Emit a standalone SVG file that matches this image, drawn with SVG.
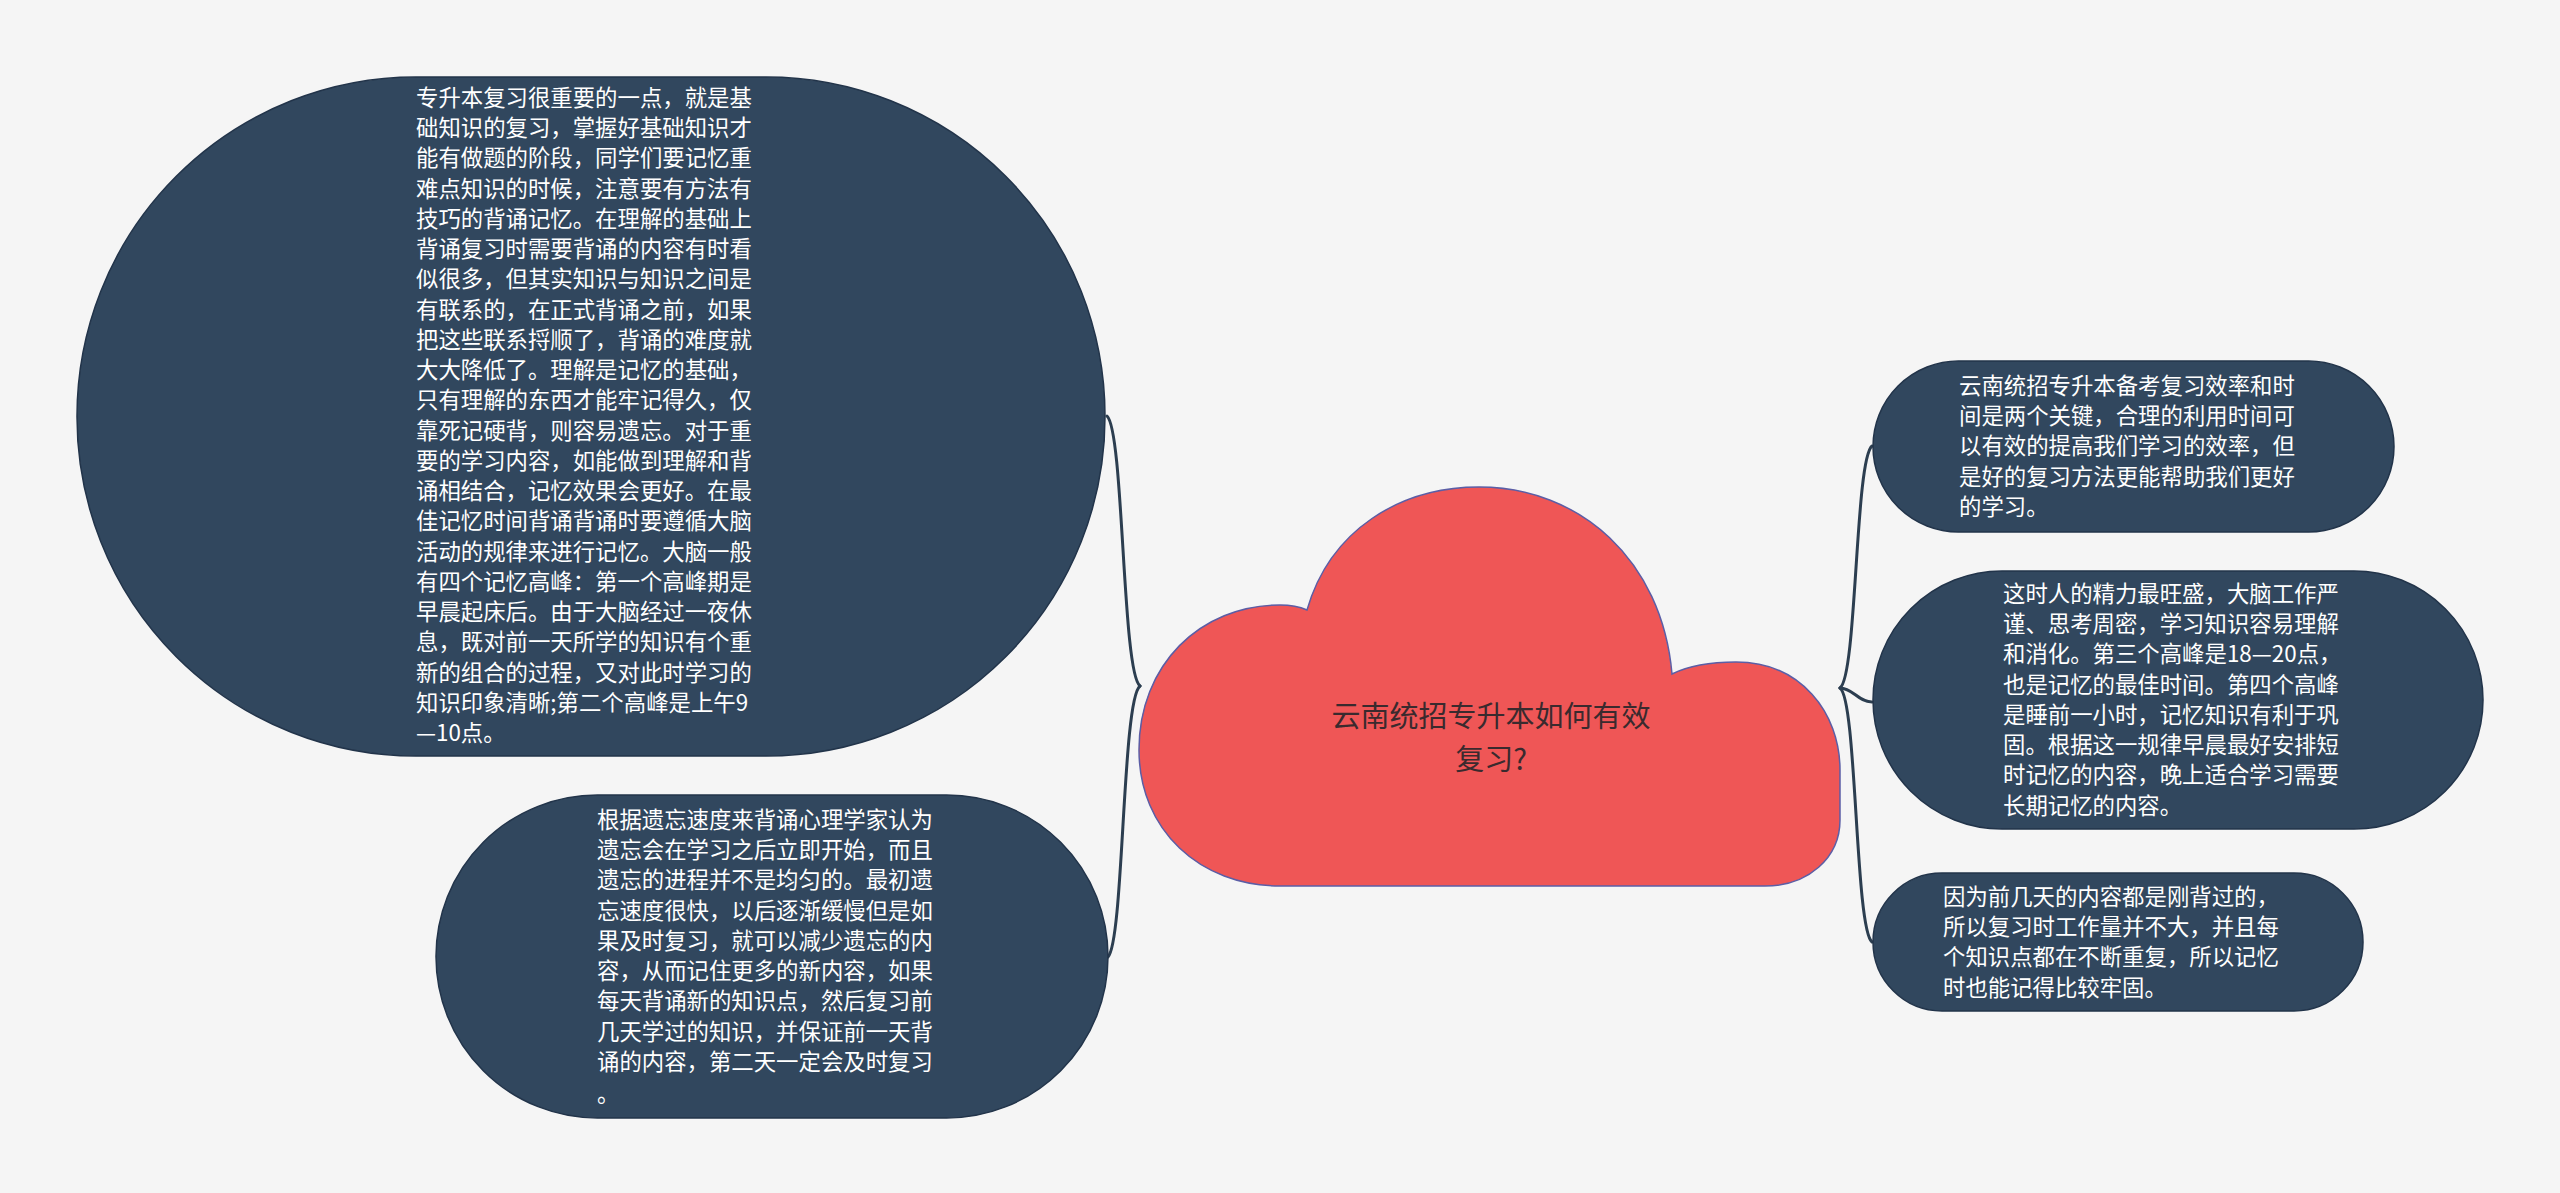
<svg xmlns="http://www.w3.org/2000/svg" width="2560" height="1193" viewBox="0 0 2560 1193">
  <style>
    .node { fill: #31475e; stroke: #22344a; stroke-width: 1.5; }
    .t { font-family: "Noto Sans CJK SC", "Noto Sans", sans-serif; font-size: 22.4px; fill: #ffffff; }
    .ct { font-family: "Noto Sans CJK SC", "Noto Sans", sans-serif; font-size: 29px; fill: #3a2a2e; text-anchor: middle; }
    .link { fill: none; stroke: #2c3e50; stroke-width: 3; stroke-linecap: round; }
  </style>
  <rect width="2560" height="1193" fill="#f5f5f5"/>

  <g id="connectors">
    <path class="link" d="M 1140 686 C 1122 672, 1124 432, 1107 416"/>
    <path class="link" d="M 1140 686 C 1122 700, 1124 940, 1108 957"/>
    <path class="link" d="M 1840 688 C 1857 676, 1855 460, 1872 446"/>
    <path class="link" d="M 1840 688 C 1853 688, 1858 702, 1872 702"/>
    <path class="link" d="M 1840 688 C 1857 700, 1855 928, 1872 942"/>
  </g>

  <g id="root">
    <path d="M 1280 886 C 1200 886, 1139 830, 1139 750 C 1139 665, 1200 605, 1280 605 C 1290 605, 1298 606, 1307 610 C 1330 530, 1400 487, 1479 487 C 1580 487, 1662 560, 1672 674 C 1690 665, 1712 662, 1736 662 C 1800 662, 1840 712, 1840 770 L 1840 820 C 1840 858, 1808 886, 1765 886 Z" fill="#ef5656" stroke="#5b5ea6" stroke-width="1.5"/>
    <text class="ct"><tspan x="1491" y="727">云南统招专升本如何有效</tspan><tspan x="1491" y="770">复习?</tspan></text>
  </g>

  <g id="node1">
    <rect class="node" x="77" y="77" width="1028" height="679" rx="339" ry="339"/>
    <text class="t">
      <tspan x="416" y="106">专升本复习很重要的一点，就是基</tspan>
      <tspan x="416" y="136">础知识的复习，掌握好基础知识才</tspan>
      <tspan x="416" y="166">能有做题的阶段，同学们要记忆重</tspan>
      <tspan x="416" y="197">难点知识的时候，注意要有方法有</tspan>
      <tspan x="416" y="227">技巧的背诵记忆。在理解的基础上</tspan>
      <tspan x="416" y="257">背诵复习时需要背诵的内容有时看</tspan>
      <tspan x="416" y="287">似很多，但其实知识与知识之间是</tspan>
      <tspan x="416" y="318">有联系的，在正式背诵之前，如果</tspan>
      <tspan x="416" y="348">把这些联系捋顺了，背诵的难度就</tspan>
      <tspan x="416" y="378">大大降低了。理解是记忆的基础，</tspan>
      <tspan x="416" y="408">只有理解的东西才能牢记得久，仅</tspan>
      <tspan x="416" y="439">靠死记硬背，则容易遗忘。对于重</tspan>
      <tspan x="416" y="469">要的学习内容，如能做到理解和背</tspan>
      <tspan x="416" y="499">诵相结合，记忆效果会更好。在最</tspan>
      <tspan x="416" y="529">佳记忆时间背诵背诵时要遵循大脑</tspan>
      <tspan x="416" y="560">活动的规律来进行记忆。大脑一般</tspan>
      <tspan x="416" y="590">有四个记忆高峰：第一个高峰期是</tspan>
      <tspan x="416" y="620">早晨起床后。由于大脑经过一夜休</tspan>
      <tspan x="416" y="650">息，既对前一天所学的知识有个重</tspan>
      <tspan x="416" y="681">新的组合的过程，又对此时学习的</tspan>
      <tspan x="416" y="711">知识印象清晰;第二个高峰是上午9</tspan>
      <tspan x="416" y="741">—10点。</tspan>
    </text>
  </g>

  <g id="node2">
    <rect class="node" x="436" y="795" width="672" height="323" rx="161.5" ry="161.5"/>
    <text class="t">
      <tspan x="597" y="828">根据遗忘速度来背诵心理学家认为</tspan>
      <tspan x="597" y="858">遗忘会在学习之后立即开始，而且</tspan>
      <tspan x="597" y="888">遗忘的进程并不是均匀的。最初遗</tspan>
      <tspan x="597" y="919">忘速度很快，以后逐渐缓慢但是如</tspan>
      <tspan x="597" y="949">果及时复习，就可以减少遗忘的内</tspan>
      <tspan x="597" y="979">容，从而记住更多的新内容，如果</tspan>
      <tspan x="597" y="1009">每天背诵新的知识点，然后复习前</tspan>
      <tspan x="597" y="1040">几天学过的知识，并保证前一天背</tspan>
      <tspan x="597" y="1070">诵的内容，第二天一定会及时复习</tspan>
      <tspan x="597" y="1102">。</tspan>
    </text>
  </g>

  <g id="node3">
    <rect class="node" x="1873" y="361" width="521" height="171" rx="85.5" ry="85.5"/>
    <text class="t">
      <tspan x="1959" y="394">云南统招专升本备考复习效率和时</tspan>
      <tspan x="1959" y="424">间是两个关键，合理的利用时间可</tspan>
      <tspan x="1959" y="454">以有效的提高我们学习的效率，但</tspan>
      <tspan x="1959" y="485">是好的复习方法更能帮助我们更好</tspan>
      <tspan x="1959" y="515">的学习。</tspan>
    </text>
  </g>

  <g id="node4">
    <rect class="node" x="1873" y="571" width="610" height="258" rx="129" ry="129"/>
    <text class="t">
      <tspan x="2003" y="602">这时人的精力最旺盛，大脑工作严</tspan>
      <tspan x="2003" y="632">谨、思考周密，学习知识容易理解</tspan>
      <tspan x="2003" y="662">和消化。第三个高峰是18—20点，</tspan>
      <tspan x="2003" y="693">也是记忆的最佳时间。第四个高峰</tspan>
      <tspan x="2003" y="723">是睡前一小时，记忆知识有利于巩</tspan>
      <tspan x="2003" y="753">固。根据这一规律早晨最好安排短</tspan>
      <tspan x="2003" y="783">时记忆的内容，晚上适合学习需要</tspan>
      <tspan x="2003" y="814">长期记忆的内容。</tspan>
    </text>
  </g>

  <g id="node5">
    <rect class="node" x="1873" y="873" width="490" height="138" rx="69" ry="69"/>
    <text class="t">
      <tspan x="1943" y="905">因为前几天的内容都是刚背过的，</tspan>
      <tspan x="1943" y="935">所以复习时工作量并不大，并且每</tspan>
      <tspan x="1943" y="965">个知识点都在不断重复，所以记忆</tspan>
      <tspan x="1943" y="996">时也能记得比较牢固。</tspan>
    </text>
  </g>
</svg>
